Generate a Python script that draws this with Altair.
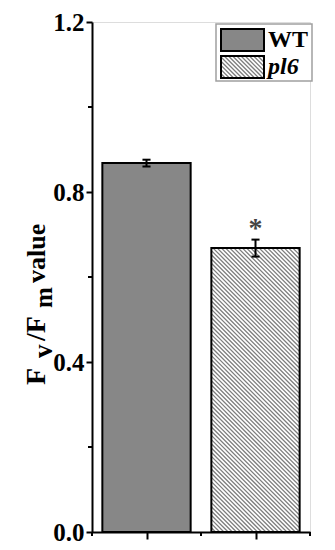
import altair as alt
import pandas as pd
import numpy as np

# ---- data ----
genotypes = ["WT", "pl6"]
positions = [0.5, 1.5]
means = [0.868, 0.668]
errors = [0.008, 0.020]
y_ticks = [0.0, 0.4, 0.8, 1.2]
y_minor = [0.2, 0.6, 1.0]
x_minor = [0.0, 1.0, 2.0]
significance = ["", "*"]

# ---- layout constants ----
W, H = 218, 510
XMAX, YMAX = 2.0, 1.2
HALF = 0.405
CAP = 0.037
FONT = "'Liberation Serif', 'Times New Roman', Times, serif"
HATCH_STEP = 4.2


def px_to_data(px, py):
    return px * XMAX / W, (H - py) * YMAX / H


def hatch(X0, X1, Ytop, Ybot, step=HATCH_STEP):
    rows = []
    c = X0 - Ybot
    while c < X1 - Ytop:
        ys = max(Ytop, X0 - c)
        ye = min(Ybot, X1 - c)
        if ye > ys:
            xa, ya = px_to_data(ys + c, ys)
            xb, yb = px_to_data(ye + c, ye)
            rows.append({"x": xa, "y": ya, "x2": xb, "y2": yb})
        c += step
    return rows


bars = pd.DataFrame({"g": genotypes, "pos": positions, "mean": means,
                     "err": errors, "sig": significance})
bars["x0"] = bars["pos"] - HALF
bars["x1"] = bars["pos"] + HALF
bars["lo"] = bars["mean"] - bars["err"]
bars["hi"] = bars["mean"] + bars["err"]
bars["c0"] = bars["pos"] - CAP
bars["c1"] = bars["pos"] + CAP

# hatch for pl6 bar (through the scales)
p = bars.iloc[1]
hrows = hatch(p["x0"] * W / XMAX, p["x1"] * W / XMAX,
              H - p["mean"] * H / YMAX, H)
# hatch for legend swatch (pixel box -> data units)
LEG_SW = (129, 172, 34, 56)
hrows += hatch(LEG_SW[0], LEG_SW[1], LEG_SW[2], LEG_SW[3])
hatch_df = pd.DataFrame(hrows)

xscale = alt.Scale(domain=[0, XMAX], nice=False, zero=False)
yscale = alt.Scale(domain=[0, YMAX], nice=False)

x_axis = alt.Axis(values=[0.5, 1.5], labels=False, title=None, grid=False,
                  tickSize=7, tickWidth=2, tickColor="black",
                  domainColor="black", domainWidth=2)
y_axis = alt.Axis(values=y_ticks, format=".1f", title=None, grid=False,
                  labelFont=FONT, labelFontWeight="bold", labelFontSize=25,
                  labelColor="black", labelPadding=2, labelFlush=False,
                  tickSize=6, tickWidth=2, tickColor="black",
                  domainColor="black", domainWidth=2)

base = alt.Chart(bars)

one = pd.DataFrame({"k": [0]})

# legend frame drawn first so that hatch lines sit on top of it
leg_box = alt.Chart(one).mark_rect(fill="white", stroke="#a0a0a0", strokeWidth=1.5).encode(
    x=alt.value(124), x2=alt.value(220), y=alt.value(2), y2=alt.value(59))

bar_fill = base.mark_rect(strokeWidth=0).encode(
    x=alt.X("x0:Q", scale=xscale, axis=x_axis),
    x2="x1:Q",
    y=alt.Y("mean:Q", scale=yscale, axis=y_axis),
    y2=alt.datum(0),
    fill=alt.Fill("g:N", scale=alt.Scale(domain=genotypes, range=["#878787", "#ffffff"]), legend=None),
)

hatch_layer = alt.Chart(hatch_df).mark_rule(color="#7d7d7d", strokeWidth=1.3).encode(
    x="x:Q", y="y:Q", x2="x2:Q", y2="y2:Q")

bar_outline = base.mark_rect(fill=None, stroke="black", strokeWidth=2).encode(
    x="x0:Q", x2="x1:Q", y="mean:Q", y2=alt.datum(0))

err_line = base.mark_rule(color="black", strokeWidth=2).encode(
    x="pos:Q", y="lo:Q", y2="hi:Q")
err_cap_hi = base.mark_rule(color="black", strokeWidth=2).encode(
    x="c0:Q", x2="c1:Q", y="hi:Q")
err_cap_lo = base.mark_rule(color="black", strokeWidth=2).encode(
    x="c0:Q", x2="c1:Q", y="lo:Q")

star = base.mark_text(font=FONT, fontWeight="bold", fontSize=28, color="#444444",
                      baseline="alphabetic", dy=-3).encode(
    x="pos:Q", y="hi:Q", text="sig:N")

minor_y = alt.Chart(pd.DataFrame({"v": y_minor})).mark_rule(color="black", strokeWidth=2).encode(
    y="v:Q", x=alt.value(-4), x2=alt.value(0))
minor_x = alt.Chart(pd.DataFrame({"v": x_minor})).mark_rule(color="black", strokeWidth=2).encode(
    x="v:Q", y=alt.value(H), y2=alt.value(H + 4))

# ---- manual legend ----
leg_wt = alt.Chart(one).mark_rect(fill="#878787", stroke="black", strokeWidth=2).encode(
    x=alt.value(129), x2=alt.value(172), y=alt.value(7), y2=alt.value(29))
leg_pl6_outline = alt.Chart(one).mark_rect(fill=None, stroke="black", strokeWidth=2).encode(
    x=alt.value(LEG_SW[0]), x2=alt.value(LEG_SW[1]), y=alt.value(LEG_SW[2]), y2=alt.value(LEG_SW[3]))
leg_t1 = alt.Chart(one).mark_text(font=FONT, fontWeight="bold", fontSize=24, align="left",
                                  baseline="alphabetic", color="black").encode(
    x=alt.value(176), y=alt.value(25), text=alt.value(genotypes[0]))
leg_t2 = alt.Chart(one).mark_text(font=FONT, fontWeight="bold", fontStyle="italic", fontSize=24,
                                  align="left", baseline="alphabetic", color="black").encode(
    x=alt.value(176), y=alt.value(52), text=alt.value(genotypes[1]))

# ---- y title built from pieces (with subscripts) ----
# (text, start y in plot px, baseline x in plot px, font size)
title_pieces = [("F", 363, -47, 28), ("v", 336, -40, 27), ("/F", 319, -47, 28),
                ("m", 286, -40, 25), ("value", 261, -47, 26)]
title_layers = []
for txt, ypos, xpos, fs in title_pieces:
    title_layers.append(
        alt.Chart(one).mark_text(font=FONT, fontWeight="bold", fontSize=fs, angle=270,
                                 align="left", baseline="alphabetic", color="black").encode(
            x=alt.value(xpos), y=alt.value(ypos), text=alt.value(txt)))

chart = alt.layer(
    leg_box, bar_fill, hatch_layer, bar_outline, err_line, err_cap_hi, err_cap_lo, star,
    minor_y, minor_x, leg_wt, leg_pl6_outline, leg_t1, leg_t2,
    *title_layers
).properties(
    width=W, height=H,
    padding={"left": 15, "top": 2, "right": 4, "bottom": 0},
).configure_view(stroke=None).configure(background="white")

chart.save("out.html", embed_options={"renderer": "svg", "actions": False})
